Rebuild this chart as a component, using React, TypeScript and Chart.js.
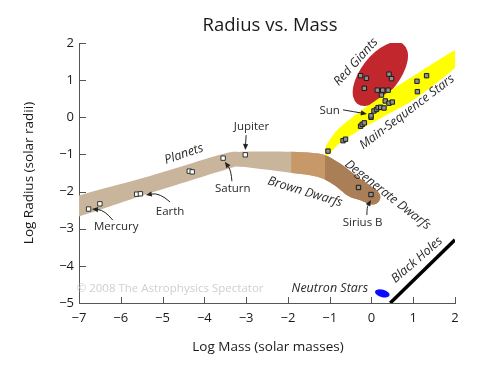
import React, { useEffect, useRef } from "react";
import { Chart, registerables } from "chart.js";
Chart.register(...registerables);

// ---------- data ----------
const xTickValues = [-7, -6, -5, -4, -3, -2, -1, 0, 1, 2];
const yTickValues = [-5, -4, -3, -2, -1, 0, 1, 2];

const planetMass = [-6.77, -6.5, -5.62, -5.53, -4.36, -4.29, -3.55, -3.02];
const planetRadius = [-2.47, -2.33, -2.07, -2.06, -1.45, -1.47, -1.1, -1.01];

const degenerateMass = [-0.31, -0.01];
const degenerateRadius = [-1.89, -2.08];

const mainSeqMass = [-1.04, -0.68, -0.62, -0.26, -0.22, -0.17, -0.01, -0.01, 0.06, 0.12, 0.16, 0.22, 0.3, 0.33, 0.42, 0.5, 1.09, 1.1, 1.32];
const mainSeqRadius = [-0.91, -0.63, -0.59, -0.24, -0.19, -0.15, 0.0, 0.04, 0.17, 0.21, 0.26, 0.27, 0.25, 0.44, 0.38, 0.41, 0.97, 0.69, 1.12];

const redGiantMass = [-0.26, -0.12, 0.42, 0.48, -0.17, 0.14, 0.27, 0.4, 0.24];
const redGiantRadius = [1.12, 1.05, 1.16, 1.04, 0.78, 0.73, 0.73, 0.73, 0.6];

const blackHoleMass = [0.45, 2.0];
const blackHoleRadius = [-5.0, -3.3];

// compact-object band outline (planets -> brown dwarfs -> degenerate dwarfs)
const compactBandMass = [-7.3, -5.3, -3.6, -3.1, -2.5, -1.9, -1.4, -1.1, -0.76, -0.36, 0.04, 0.2, 0.18, 0.02, -0.3, -0.55, -0.92, -1.3, -1.9, -2.6, -3.15, -3.5, -5.3, -7.3];
const compactBandRadius = [-2.24, -1.58, -1.0, -0.93, -0.92, -0.93, -0.96, -1.02, -1.24, -1.58, -1.9, -2.08, -2.26, -2.35, -2.22, -2.12, -1.8, -1.6, -1.5, -1.4, -1.33, -1.41, -2.04, -2.74];
const compactBandBreaks = [-1.92, -1.11];

// main-sequence band outline
const mainSeqBandMass = [-1.11, -1.04, -0.78, -0.28, 0.36, 1.1, 2.1, 2.1, 1.1, 0.36, -0.28, -0.76, -1.0, -1.09];
const mainSeqBandRadius = [-0.88, -0.68, -0.3, 0.15, 0.65, 1.18, 1.85, 1.45, 0.54, 0.06, -0.34, -0.7, -0.98, -1.03];

// ellipses: [centre mass, centre radius, semi-axis a, semi-axis b (x units), angle deg]
const redGiantRegion = [0.213, 1.165, 0.9, 0.46, -52];
const neutronStarRegion = [0.26, -4.74, 0.18, 0.09, 15];

const regionLabelText = ["Planets", "Brown Dwarfs", "Degenerate Dwarfs", "Main-Sequence Stars", "Red Giants", "Neutron Stars", "Black Holes"];
const regionLabelMass = [-4.49, -1.59, 0.39, 0.85, -0.37, -0.995, 1.09];
const regionLabelRadius = [-0.99, -2.01, -2.09, 0.14, 1.49, -4.6, -3.84];
const regionLabelAngle = [-19, 17, 38, -37, -48, 0, -41];

const objectLabelText = ["Jupiter", "Saturn", "Earth", "Mercury", "Sun", "Sirius B"];
const objectLabelMass = [-2.87, -3.32, -4.82, -6.11, -1.0, -0.21];
const objectLabelRadius = [-0.26, -1.93, -2.55, -2.95, 0.17, -2.85];
const arrowFromMass = [-3.0, -3.34, -4.82, -6.19, -0.68, -0.11];
const arrowFromRadius = [-0.48, -1.72, -2.28, -2.77, 0.2, -2.63];
const arrowToMass = [-3.02, -3.51, -5.4, -6.69, -0.11, -0.01];
const arrowToRadius = [-0.88, -1.2, -2.09, -2.47, 0.09, -2.23];
const arrowBend = [0, 3, 6, 5, 0, -2];

const copyrightText = "\u00A9 2008 The Astrophysics Spectator";
const copyrightPos = [-4.82, -4.62];

const FONT = '"Open Sans", "Noto Sans", sans-serif';
const minus = (v: number) => String(v).replace("-", "\u2212");

function closedSpline(ctx: CanvasRenderingContext2D, pts: number[][]) {
  const n = pts.length;
  ctx.moveTo(pts[0][0], pts[0][1]);
  for (let i = 0; i < n; i++) {
    const p0 = pts[(i - 1 + n) % n], p1 = pts[i], p2 = pts[(i + 1) % n], p3 = pts[(i + 2) % n];
    ctx.bezierCurveTo(
      p1[0] + (p2[0] - p0[0]) / 6, p1[1] + (p2[1] - p0[1]) / 6,
      p2[0] - (p3[0] - p1[0]) / 6, p2[1] - (p3[1] - p1[1]) / 6,
      p2[0], p2[1]
    );
  }
  ctx.closePath();
}

const overlayPlugin = {
  id: "overlay",
  beforeDatasetsDraw(chart: any) {
    const { ctx, chartArea: a } = chart;
    const X = (v: number) => chart.scales.x.getPixelForValue(v);
    const Y = (v: number) => chart.scales.y.getPixelForValue(v);
    const ux = X(1) - X(0);
    ctx.save();
    ctx.beginPath();
    ctx.rect(a.left, a.top, a.right - a.left, a.bottom - a.top);
    ctx.clip();

    const band = compactBandMass.map((m, i) => [X(m), Y(compactBandRadius[i])]);
    const fillBand = (color: string, from: number | null) => {
      ctx.save();
      if (from !== null) {
        ctx.beginPath();
        ctx.rect(X(from), a.top, a.right - X(from) + 50, a.bottom - a.top);
        ctx.clip();
      }
      ctx.beginPath();
      closedSpline(ctx, band);
      ctx.fillStyle = color;
      ctx.fill();
      ctx.restore();
    };
    fillBand("rgb(201,181,155)", null);
    fillBand("rgb(199,152,104)", compactBandBreaks[0]);
    fillBand("rgb(170,126,86)", compactBandBreaks[1]);

    const ellipse = (r: number[], color: string) => {
      ctx.beginPath();
      ctx.ellipse(X(r[0]), Y(r[1]), r[2] * ux, r[3] * ux, (r[4] * Math.PI) / 180, 0, Math.PI * 2);
      ctx.fillStyle = color;
      ctx.fill();
    };
    ellipse(redGiantRegion, "rgb(193,39,45)");

    const ms = mainSeqBandMass.map((m, i) => [X(m), Y(mainSeqBandRadius[i])]);
    ctx.beginPath();
    closedSpline(ctx, ms);
    ctx.fillStyle = "rgb(255,255,0)";
    ctx.fill();

    ellipse(neutronStarRegion, "rgb(10,10,255)");
    ctx.restore();
  },
  afterDatasetsDraw(chart: any) {
    const { ctx } = chart;
    const X = (v: number) => chart.scales.x.getPixelForValue(v);
    const Y = (v: number) => chart.scales.y.getPixelForValue(v);
    ctx.save();
    // region labels
    ctx.fillStyle = "#2a2a2a";
    ctx.font = `italic 12.5px ${FONT}`;
    ctx.textAlign = "center";
    ctx.textBaseline = "middle";
    regionLabelText.forEach((t, i) => {
      ctx.save();
      ctx.translate(X(regionLabelMass[i]), Y(regionLabelRadius[i]));
      ctx.rotate((regionLabelAngle[i] * Math.PI) / 180);
      ctx.fillText(t, 0, 0);
      ctx.restore();
    });
    // object labels
    ctx.font = `11.5px ${FONT}`;
    objectLabelText.forEach((t, i) => {
      ctx.fillText(t, X(objectLabelMass[i]), Y(objectLabelRadius[i]));
    });
    // arrows
    ctx.strokeStyle = "#222";
    ctx.fillStyle = "#222";
    ctx.lineWidth = 1;
    arrowFromMass.forEach((_, i) => {
      const x0 = X(arrowFromMass[i]), y0 = Y(arrowFromRadius[i]);
      const x1 = X(arrowToMass[i]), y1 = Y(arrowToRadius[i]);
      const dx = x1 - x0, dy = y1 - y0, len = Math.hypot(dx, dy);
      const cx = (x0 + x1) / 2 + (-dy / len) * arrowBend[i];
      const cy = (y0 + y1) / 2 + (dx / len) * arrowBend[i];
      const ang = Math.atan2(y1 - cy, x1 - cx);
      const hl = 6, hw = 2.6;
      const bx = x1 - Math.cos(ang) * hl, by = y1 - Math.sin(ang) * hl;
      ctx.beginPath();
      ctx.moveTo(x0, y0);
      ctx.quadraticCurveTo(cx, cy, bx, by);
      ctx.stroke();
      ctx.beginPath();
      ctx.moveTo(x1, y1);
      ctx.lineTo(bx - Math.sin(ang) * hw, by + Math.cos(ang) * hw);
      ctx.lineTo(bx + Math.sin(ang) * hw, by - Math.cos(ang) * hw);
      ctx.closePath();
      ctx.fill();
    });
    // copyright
    ctx.fillStyle = "#cfcfcf";
    ctx.font = `11.5px ${FONT}`;
    ctx.fillText(copyrightText, X(copyrightPos[0]), Y(copyrightPos[1]));
    ctx.restore();
  },
  afterDraw(chart: any) {
    const { ctx, chartArea: a } = chart;
    const X = (v: number) => chart.scales.x.getPixelForValue(v);
    const Y = (v: number) => chart.scales.y.getPixelForValue(v);
    ctx.save();
    ctx.strokeStyle = "#555";
    ctx.lineWidth = 1;
    ctx.beginPath();
    xTickValues.forEach((v) => {
      const px = Math.round(X(v)) + 0.5;
      ctx.moveTo(px, a.bottom);
      ctx.lineTo(px, a.bottom - 6);
    });
    yTickValues.forEach((v) => {
      const py = Math.round(Y(v)) + 0.5;
      ctx.moveTo(a.left, py);
      ctx.lineTo(a.left + 7, py);
    });
    ctx.stroke();
    // titles
    ctx.fillStyle = "#1a1a1a";
    ctx.textAlign = "center";
    ctx.textBaseline = "alphabetic";
    ctx.font = `18.5px ${FONT}`;
    ctx.fillText("Radius vs. Mass", 270, 31);
    ctx.font = `13.5px ${FONT}`;
    ctx.textBaseline = "middle";
    ctx.fillText("Log Mass (solar masses)", 268, 347);
    ctx.save();
    ctx.translate(29, 173);
    ctx.rotate(-Math.PI / 2);
    ctx.fillText("Log Radius (solar radii)", 0, 0);
    ctx.restore();
    ctx.restore();
  },
};

const pts = (xs: number[], ys: number[]) => xs.map((x, i) => ({ x, y: ys[i] }));

export default function App() {
  const ref = useRef<HTMLCanvasElement | null>(null);
  useEffect(() => {
    if (!ref.current) return;
    const starStyle = {
      pointStyle: "rect",
      pointRadius: 3.1,
      pointBackgroundColor: "#909090",
      pointBorderColor: "#1a1a1a",
      pointBorderWidth: 1,
      showLine: false,
    };
    const chart = new Chart(ref.current, {
      type: "scatter",
      data: {
        datasets: [
          {
            label: "Black Holes",
            data: pts(blackHoleMass, blackHoleRadius),
            showLine: true,
            borderColor: "#000",
            borderWidth: 3.5,
            pointRadius: 0,
          } as any,
          {
            label: "Planets",
            data: pts(planetMass, planetRadius),
            pointStyle: "rect",
            pointRadius: 3.1,
            pointBackgroundColor: "#fff",
            pointBorderColor: "#333",
            pointBorderWidth: 1,
          },
          { label: "Degenerate", data: pts(degenerateMass, degenerateRadius), ...starStyle },
          { label: "Main sequence", data: pts(mainSeqMass, mainSeqRadius), ...starStyle },
          { label: "Red giants", data: pts(redGiantMass, redGiantRadius), ...starStyle },
        ],
      },
      options: {
        animation: false,
        responsive: false,
        devicePixelRatio: 1,
        layout: { padding: { top: 43, right: 45, left: 0, bottom: 0 } },
        plugins: { legend: { display: false }, tooltip: { enabled: false }, title: { display: false } },
        scales: {
          x: {
            type: "linear",
            min: -7,
            max: 2,
            afterFit: (s: any) => { s.height = 72; },
            afterBuildTicks: (s: any) => { s.ticks = xTickValues.map((v) => ({ value: v })); },
            grid: { display: false, drawTicks: false },
            border: { display: true, color: "#555", width: 1 },
            ticks: {
              padding: 7,
              color: "#1a1a1a",
              font: { family: FONT, size: 13 },
              callback: (v: any) => minus(v),
              maxRotation: 0,
            },
          },
          y: {
            type: "linear",
            min: -5,
            max: 2,
            afterFit: (s: any) => { s.width = 79; },
            afterBuildTicks: (s: any) => { s.ticks = yTickValues.map((v) => ({ value: v })); },
            grid: { display: false, drawTicks: false },
            border: { display: true, color: "#555", width: 1 },
            ticks: {
              padding: 5,
              color: "#1a1a1a",
              font: { family: FONT, size: 13 },
              callback: (v: any) => minus(v),
            },
          },
        },
      } as any,
      plugins: [overlayPlugin as any],
    });
    return () => chart.destroy();
  }, []);
  return (
    <div style={{ position: "fixed", left: 0, top: 0, width: 500, height: 375, background: "#fff" }}>
      <canvas ref={ref} width={500} height={375} style={{ width: 500, height: 375, display: "block" }} />
    </div>
  );
}
